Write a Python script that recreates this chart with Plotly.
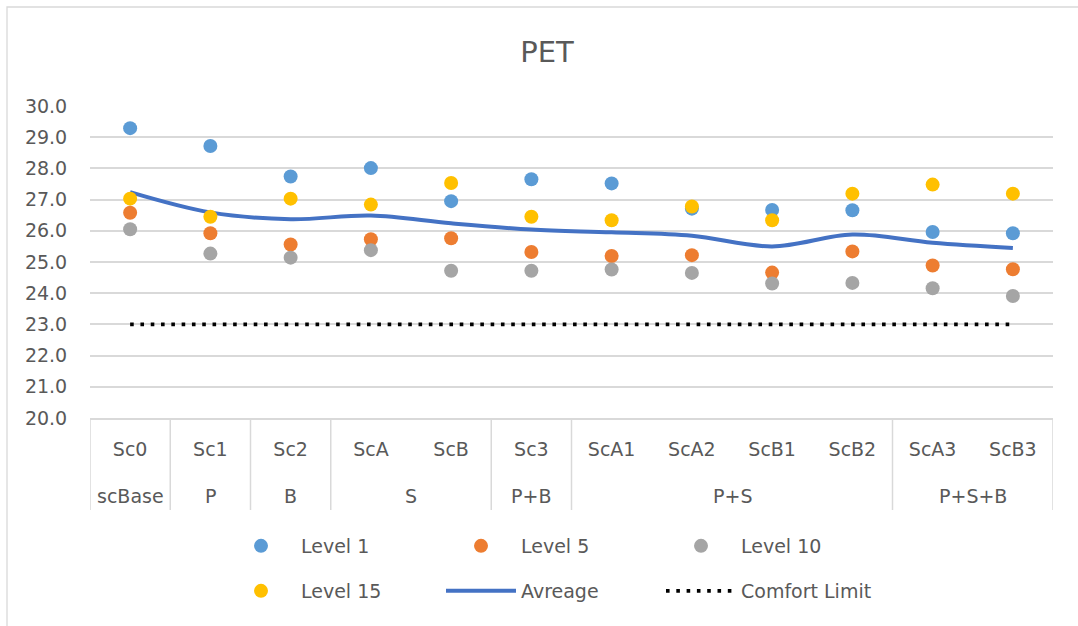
import plotly.graph_objects as go

# Scenario groups and scenario codes (two-level category axis)
groups = ["scBase", "P", "B", "S", "S", "P+B", "P+S", "P+S", "P+S", "P+S", "P+S+B", "P+S+B"]
scenarios = ["Sc0", "Sc1", "Sc2", "ScA", "ScB", "Sc3", "ScA1", "ScA2", "ScB1", "ScB2", "ScA3", "ScB3"]

# PET values per level
level_1 = [29.29, 28.72, 27.74, 28.01, 26.95, 27.65, 27.52, 26.71, 26.67, 26.66, 25.96, 25.92]
level_5 = [26.58, 25.92, 25.56, 25.73, 25.76, 25.32, 25.19, 25.22, 24.66, 25.34, 24.89, 24.77]
level_10 = [26.05, 25.27, 25.14, 25.38, 24.72, 24.72, 24.76, 24.65, 24.31, 24.33, 24.16, 23.91]
level_15 = [27.03, 26.45, 27.03, 26.84, 27.53, 26.45, 26.34, 26.78, 26.34, 27.19, 27.48, 27.19]
average = [27.24, 26.59, 26.37, 26.49, 26.24, 26.04, 25.95, 25.84, 25.50, 25.88, 25.62, 25.45]
comfort_limit = [23.0] * len(scenarios)

y_ticks = [20, 21, 22, 23, 24, 25, 26, 27, 28, 29, 30]

FONT = "DejaVu Sans"
TEXT = "#595959"
GRID = "#d9d9d9"
W, H = 1078, 626
ML, MR, MT, MB = 90, 25, 106, 208
PLOT_H = H - MT - MB
PLOT_W = W - ML - MR

fig = go.Figure()

# Lines first so the markers sit on top of them
fig.add_trace(go.Scatter(
    x=scenarios, y=average, name="Avreage", mode="lines",
    line=dict(color="#4472C4", width=4, shape="spline", smoothing=1),
    legend="legend2", legendrank=2,
))
fig.add_trace(go.Scatter(
    x=scenarios, y=comfort_limit, name="Comfort Limit", mode="lines",
    line=dict(color="#000000", width=3.6, dash="3.6px,6.7px"),
    legend="legend2", legendrank=3,
))

marker_series = [
    ("Level 1", level_1, "#5B9BD5", "legend", 1),
    ("Level 5", level_5, "#ED7D31", "legend", 2),
    ("Level 10", level_10, "#A5A5A5", "legend", 3),
    ("Level 15", level_15, "#FFC000", "legend2", 1),
]
for name, vals, color, leg, rank in marker_series:
    fig.add_trace(go.Scatter(
        x=scenarios, y=vals, name=name, mode="markers",
        marker=dict(color=color, size=14, line=dict(width=0)),
        legend=leg, legendrank=rank,
    ))

# Group spans along the category axis: (label, first index, last index)
spans = []
for i, g in enumerate(groups):
    if spans and spans[-1][0] == g:
        spans[-1][2] = i
    else:
        spans.append([g, i, i])

table_bottom = -(510 - (H - MB)) / PLOT_H
group_label_y = -(496 - (H - MB)) / PLOT_H

# Divider lines of the category table, at the group edges
edges = [spans[0][1] - 0.5] + [s[2] + 0.5 for s in spans]
for e in edges:
    fig.add_shape(
        type="line", xref="x", yref="paper",
        x0=e, x1=e, y0=0, y1=table_bottom,
        line=dict(color=GRID, width=1.5),
    )

# Group labels centred under their scenarios
for label, i0, i1 in spans:
    fig.add_annotation(
        x=(i0 + i1) / 2, xref="x", y=group_label_y, yref="paper",
        text=label, showarrow=False, xanchor="center", yanchor="middle",
        font=dict(family=FONT, size=19, color=TEXT),
    )

# Outer chart border (left and top edges fall inside the canvas)
fig.add_shape(
    type="rect", xref="paper", yref="paper",
    x0=(7 - ML) / PLOT_W, x1=(W + 20 - ML) / PLOT_W,
    y0=-(H + 20 - (H - MB)) / PLOT_H, y1=1 + (MT - 7) / PLOT_H,
    line=dict(color=GRID, width=1.3), fillcolor="rgba(0,0,0,0)", layer="below",
)

legend_common = dict(
    orientation="h", xref="container", yref="container",
    xanchor="left", yanchor="middle",
    font=dict(family=FONT, size=19, color=TEXT),
    itemwidth=70, entrywidth=135, entrywidthmode="pixels",
    bgcolor="rgba(0,0,0,0)", borderwidth=0, traceorder="normal",
    itemclick=False, itemdoubleclick=False,
)

fig.update_layout(
    width=W, height=H,
    margin=dict(l=ML, r=MR, t=MT, b=MB),
    paper_bgcolor="white", plot_bgcolor="white",
    font=dict(family=FONT, size=19, color=TEXT),
    title=dict(
        text="PET", xref="container", x=547 / W, xanchor="center",
        yref="container", y=1 - 52 / H, yanchor="middle",
        font=dict(family=FONT, size=29, color=TEXT),
    ),
    showlegend=True,
    legend=dict(legend_common, x=221 / W, y=1 - 546 / H),
    legend2=dict(legend_common, x=221 / W, y=1 - 591 / H),
    xaxis=dict(
        type="category", range=[-0.5, len(scenarios) - 0.5],
        showline=True, linecolor=GRID, linewidth=1.5,
        showgrid=False, zeroline=False,
        ticks="outside", ticklen=13, tickcolor="rgba(0,0,0,0)",
        tickfont=dict(family=FONT, size=19, color=TEXT),
    ),
    yaxis=dict(
        range=[20, 30], tickvals=y_ticks, tickformat=".1f",
        showgrid=True, gridcolor=GRID, gridwidth=1.5,
        showline=False, zeroline=False,
        ticks="outside", ticklen=18, tickcolor="rgba(0,0,0,0)",
        tickfont=dict(family=FONT, size=19, color=TEXT),
    ),
)

fig.write_html("out.html")
